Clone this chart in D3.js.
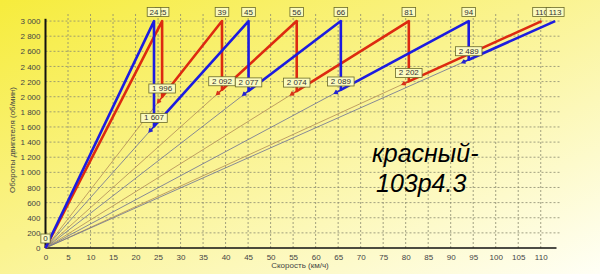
<!DOCTYPE html>
<html>
<head>
<meta charset="utf-8">
<script src="https://cdn.jsdelivr.net/npm/d3@7"></script>
<style>
  html, body { margin: 0; padding: 0; }
  svg { display: block; }
  text { font-family: "Liberation Sans", Arial, sans-serif; }
</style>
</head>
<body>
<svg id="chart" width="600" height="274"></svg>
<script>
// скорость (км/ч) в момент переключения и обороты после переключения
var redSpeeds = [25.9, 39.2, 55.8, 80.7, 110.2];
var redTopLabels = ["25", "39", "56", "81", "110"];
var redShiftRpm = [1996, 2092, 2074, 2202];
var redShiftLabels = ["1 996", "2 092", "2 074", "2 202"];

var blueSpeeds = [24.1, 45.1, 65.6, 94, 113.2];
var blueTopLabels = ["24", "45", "66", "94", "113"];
var blueShiftRpm = [1607, 2077, 2089, 2489];
var blueShiftLabels = ["1 607", "2 077", "2 089", "2 489"];

var maxRpm = 3000;
var xTicks = d3.range(0, 111, 5);
var yTicks = d3.range(0, 3001, 200);

var svg = d3.select("#chart");
var width = +svg.attr("width");
var height = +svg.attr("height");

var defs = svg.append("defs");
var grad = defs.append("linearGradient")
	.attr("id", "bg")
	.attr("x1", 0).attr("y1", 0)
	.attr("x2", 1).attr("y2", 1);
grad.append("stop").attr("offset", 0).attr("stop-color", "#f6ec3c");
grad.append("stop").attr("offset", 0.45).attr("stop-color", "#faf38e");
grad.append("stop").attr("offset", 1).attr("stop-color", "#fffff6");

svg.append("rect")
	.attr("width", width)
	.attr("height", height)
	.attr("fill", "url(#bg)");

var x = d3.scaleLinear().domain([0, 114.5]).range([45.5, 561]);
var y = d3.scaleLinear().domain([0, 3100]).range([248, 13.5]);

var fmt = function (d) { return d3.format(",")(d).replace(",", " "); };

// сетка
var grid = svg.append("g").attr("class", "grid");
grid.selectAll("line.h")
	.data(yTicks.slice(1))
	.enter().append("line")
	.attr("x1", x(0)).attr("x2", x(114.5))
	.attr("y1", function (d) { return y(d); })
	.attr("y2", function (d) { return y(d); })
	.attr("stroke", "#8a8a70")
	.attr("stroke-width", 0.8)
	.attr("stroke-dasharray", "2,2");
grid.selectAll("line.v")
	.data(xTicks.slice(1))
	.enter().append("line")
	.attr("y1", y(0)).attr("y2", y(3100))
	.attr("x1", function (d) { return x(d); })
	.attr("x2", function (d) { return x(d); })
	.attr("stroke", "#8a8a70")
	.attr("stroke-width", 0.8)
	.attr("stroke-dasharray", "2,2");

// оси
var xAxis = d3.axisBottom(x).tickValues(xTicks).tickSize(0).tickPadding(6);
var yAxis = d3.axisLeft(y).tickValues(yTicks).tickSize(0).tickPadding(5).tickFormat(fmt);

var gx = svg.append("g").attr("transform", "translate(0," + y(0) + ")").call(xAxis);
var gy = svg.append("g").attr("transform", "translate(" + x(0) + ",0)").call(yAxis);
[gx, gy].forEach(function (g) {
	g.select(".domain").remove();
	g.selectAll("text")
		.attr("fill", "#444")
		.style("font-size", "8px");
});

svg.append("line")
	.attr("x1", x(0)).attr("x2", x(113.5))
	.attr("y1", y(0)).attr("y2", y(0))
	.attr("stroke", "#111").attr("stroke-width", 1.5);
svg.append("line")
	.attr("x1", x(0)).attr("x2", x(0))
	.attr("y1", y(0)).attr("y2", y(3030))
	.attr("stroke", "#111").attr("stroke-width", 2);

svg.append("text")
	.attr("x", 300).attr("y", 268)
	.attr("text-anchor", "middle")
	.attr("fill", "#444")
	.style("font-size", "8px")
	.text("Скорость (км/ч)");
svg.append("text")
	.attr("transform", "translate(15,140) rotate(-90)")
	.attr("text-anchor", "middle")
	.attr("fill", "#444")
	.style("font-size", "8px")
	.text("Обороты двигателя (об/мин)");

// тонкие лучи передач от нуля до точки переключения
function rays(speeds, rpms, color) {
	var g = svg.append("g");
	g.selectAll("line")
		.data(rpms)
		.enter().append("line")
		.attr("x1", x(0)).attr("y1", y(0))
		.attr("x2", function (d, i) { return x(speeds[i]); })
		.attr("y2", function (d) { return y(d); })
		.attr("stroke", color)
		.attr("stroke-width", 0.8);
}
rays(redSpeeds, redShiftRpm, "#b08a55");
rays(blueSpeeds, blueShiftRpm, "#6a6f96");

function sawPoints(speeds, rpms) {
	var pts = [[0, 0]];
	speeds.forEach(function (v, i) {
		pts.push([v, maxRpm]);
		if (i < rpms.length) pts.push([v, rpms[i]]);
	});
	return pts;
}

var line = d3.line()
	.x(function (d) { return x(d[0]); })
	.y(function (d) { return y(d[1]); });

function arrows(speeds, rpms, color) {
	svg.append("g").selectAll("path")
		.data(rpms)
		.enter().append("path")
		.attr("d", function (d, i) {
			var px = x(speeds[i]), py = y(d);
			var ang = Math.atan2(y(0) - py, x(0) - px);
			var ex = px + 7 * Math.cos(ang), ey = py + 7 * Math.sin(ang);
			var a1 = ang + 2.6, a2 = ang - 2.6;
			return "M" + px + "," + py + "L" + ex + "," + ey +
				"M" + (ex + 3.5 * Math.cos(a1)) + "," + (ey + 3.5 * Math.sin(a1)) +
				"L" + ex + "," + ey +
				"L" + (ex + 3.5 * Math.cos(a2)) + "," + (ey + 3.5 * Math.sin(a2));
		})
		.attr("fill", "none")
		.attr("stroke", color)
		.attr("stroke-width", 1.6);
}
arrows(redSpeeds, redShiftRpm, "#d8321a");
arrows(blueSpeeds, blueShiftRpm, "#2424d0");

svg.append("path")
	.datum(sawPoints(redSpeeds, redShiftRpm))
	.attr("d", line)
	.attr("fill", "none")
	.attr("stroke", "#dd2a10")
	.attr("stroke-width", 2.6)
	.attr("stroke-linejoin", "round");
svg.append("path")
	.datum(sawPoints(blueSpeeds, blueShiftRpm))
	.attr("d", line)
	.attr("fill", "none")
	.attr("stroke", "#1c1ce0")
	.attr("stroke-width", 2.6)
	.attr("stroke-linejoin", "round");

// подписи
function label(cx, bottom, txt) {
	var w = txt.length * 4.3 + 5;
	var g = svg.append("g");
	g.append("rect")
		.attr("x", cx - w / 2).attr("y", bottom - 9)
		.attr("width", w).attr("height", 9)
		.attr("fill", "#fbfbbf")
		.attr("stroke", "#6a6a2a")
		.attr("stroke-width", 0.8);
	g.append("text")
		.attr("x", cx).attr("y", bottom - 2)
		.attr("text-anchor", "middle")
		.attr("fill", "#333")
		.style("font-size", "8px")
		.text(txt);
}

label(x(0), y(0) - 5, "0");
redShiftRpm.forEach(function (d, i) { label(x(redSpeeds[i]), y(d) - 4, redShiftLabels[i]); });
blueShiftRpm.forEach(function (d, i) { label(x(blueSpeeds[i]), y(d) - 4, blueShiftLabels[i]); });
redSpeeds.forEach(function (v, i) { label(x(v), 16.5, redTopLabels[i]); });
blueSpeeds.forEach(function (v, i) { label(x(v), 16.5, blueTopLabels[i]); });

svg.append("text")
	.attr("x", 372).attr("y", 162)
	.attr("fill", "#000")
	.style("font-size", "25px")
	.style("font-style", "italic")
	.text("красный-");
svg.append("text")
	.attr("x", 376).attr("y", 192)
	.attr("fill", "#000")
	.style("font-size", "25px")
	.style("font-style", "italic")
	.text("103p4.3");
</script>
</body>
</html>
